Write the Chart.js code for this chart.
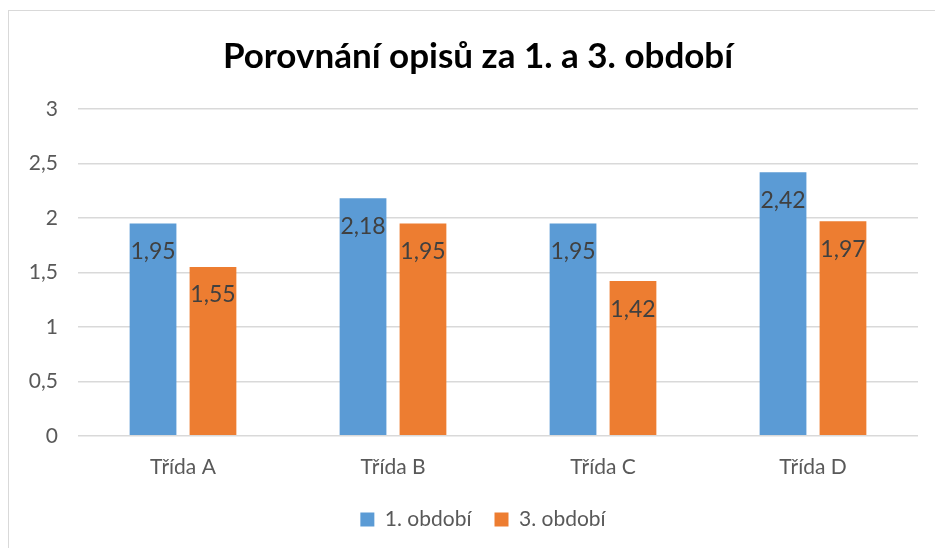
<!DOCTYPE html>
<html>
<head>
<meta charset="utf-8">
<script src="https://cdn.jsdelivr.net/npm/chart.js@4"></script>
<style>
  html, body { margin: 0; padding: 0; background: #fff; overflow: hidden; }
  #wrap { position: relative; width: 935px; height: 548px; }
  #frame { position: absolute; left: 8px; top: 10px; width: 1000px; height: 600px;
           border: 1px solid #d9d9d9; pointer-events: none; }
  canvas { position: absolute; left: 0; top: 0; }
</style>
</head>
<body>
<div id="wrap">
  <div id="frame"></div>
  <canvas id="chart" width="935" height="548"></canvas>
</div>
<script>
const categories = ['Třída A', 'Třída B', 'Třída C', 'Třída D'];
const period1 = [1.95, 2.18, 1.95, 2.42];
const period3 = [1.55, 1.95, 1.42, 1.97];
const yTicks = [0, 0.5, 1, 1.5, 2, 2.5, 3];

const fmt = v => String(v).replace('.', ',');
const FONT = 'Lato, "Open Sans", sans-serif';

// value labels drawn just inside the top of each bar
const barLabels = {
  id: 'barLabels',
  afterDatasetsDraw(chart) {
    const c = chart.ctx;
    c.save();
    c.font = '23px ' + FONT;
    c.fillStyle = '#404040';
    c.textAlign = 'center';
    c.textBaseline = 'middle';
    chart.data.datasets.forEach((ds, i) => {
      chart.getDatasetMeta(i).data.forEach((bar, j) => {
        c.fillText(fmt(ds.data[j]), bar.x, bar.y + 28);
      });
    });
    c.restore();
  }
};

// title and legend are centred on the whole frame, not the plot; also widen legend gap
const nudge = {
  id: 'nudge',
  afterLayout(chart) {
    const t = chart.titleBlock;
    t.left += 19; t.right += 19;
    const lg = chart.legend;
    lg.options.labels.padding = 23;
    lg.top -= 13; lg.bottom -= 13;
    lg.left += 11; lg.right += 11;
  }
};

new Chart(document.getElementById('chart'), {
  type: 'bar',
  data: {
    labels: categories,
    datasets: [
      { label: '1. období', data: period1, backgroundColor: '#5B9BD5' },
      { label: '3. období', data: period3, backgroundColor: '#ED7D31' }
    ]
  },
  options: {
    responsive: false,
    animation: false,
    datasets: { bar: { categoryPercentage: 0.571, barPercentage: 0.78 } },
    layout: { padding: { left: 0, right: 17, top: 0, bottom: 8 } },
    plugins: {
      title: {
        display: true,
        text: 'Porovnání opisů za 1. a 3. období',
        color: '#000',
        font: { family: FONT, size: 35, weight: 'bold' },
        padding: { top: 36, bottom: 31 }
      },
      legend: {
        position: 'bottom',
        labels: {
          boxWidth: 14, boxHeight: 14, padding: 10,
          color: '#595959',
          font: { family: FONT, size: 21 }
        }
      },
      tooltip: { enabled: false }
    },
    scales: {
      x: {
        grid: { display: false, drawTicks: false },
        border: { display: false },
        ticks: { color: '#595959', font: { family: FONT, size: 21 }, padding: 19 }
      },
      y: {
        min: 0, max: 3,
        afterFit(s) { s.width = 78; },
        afterBuildTicks(s) { s.ticks = yTicks.map(v => ({ value: v })); },
        grid: { color: '#d9d9d9', lineWidth: 1.5, drawTicks: false },
        border: { display: false },
        ticks: {
          color: '#595959', font: { family: FONT, size: 21 }, padding: 20,
          callback: v => fmt(v)
        }
      }
    }
  },
  plugins: [barLabels, nudge]
});
</script>
</body>
</html>
